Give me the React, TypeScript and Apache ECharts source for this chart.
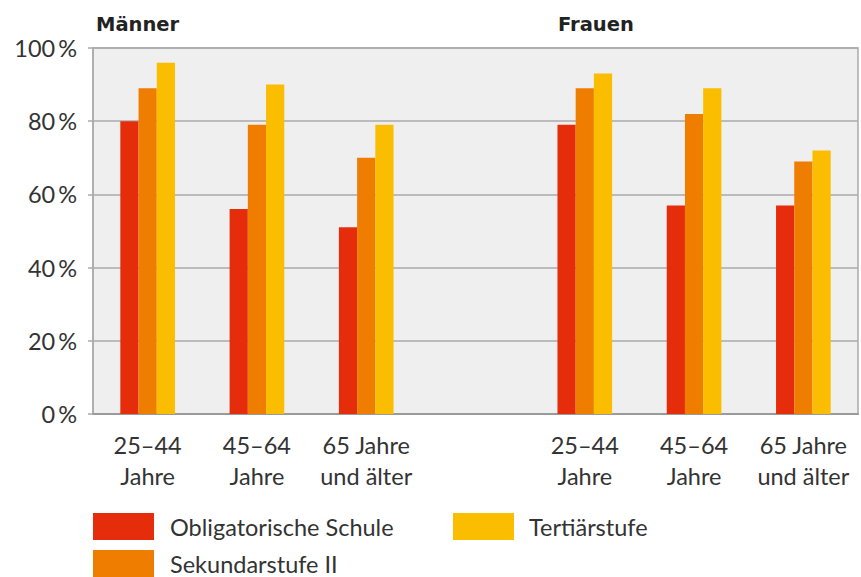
import React, { useEffect, useRef } from "react";
import * as echarts from "echarts";

const categories = [
  "25–44\nJahre",
  "45–64\nJahre",
  "65 Jahre\nund älter",
  "",
  "25–44\nJahre",
  "45–64\nJahre",
  "65 Jahre\nund älter",
];
const seriesNames = ["Obligatorische Schule", "Sekundarstufe II", "Tertiärstufe"];
const obligatorisch = [80, 56, 51, null, 79, 57, 57];
const sekundar = [89, 79, 70, null, 89, 82, 69];
const tertiaer = [96, 90, 79, null, 93, 89, 72];
const colors = ["#e52d0c", "#ef7d00", "#fbbd00"];
const groupTitles = ["Männer", "Frauen"];

const FONT = "Lato, 'Open Sans', sans-serif";
const FS = 23.5;

export default function App() {
  const ref = useRef<HTMLDivElement>(null);
  useEffect(() => {
    if (!ref.current) return;
    const chart = echarts.init(ref.current, undefined, { renderer: "svg" });
    const mk = (name: string, data: (number | null)[], color: string) => ({
      name,
      type: "bar",
      data,
      barGap: "0%",
      barCategoryGap: "50%",
      itemStyle: { color },
    });
    const legendItem = (name: string, left: number, top: number, pad: number) => ({
      orient: "horizontal",
      left,
      top,
      itemWidth: 61,
      itemHeight: 27,
      icon: "rect",
      padding: 0,
      data: [name],
      textStyle: {
        fontFamily: FONT,
        fontSize: FS,
        color: "#333",
        lineHeight: 20,
        padding: [0, 0, 0, pad],
      },
    });
    chart.setOption({
      animation: false,
      backgroundColor: "#ffffff",
      grid: {
        left: 93,
        right: 3,
        top: 48,
        bottom: 163,
        show: true,
        backgroundColor: "#efefef",
        borderColor: "#aaaaaa",
        borderWidth: 1.5,
      },
      legend: [
        legendItem(seriesNames[0], 93, 513, 11),
        legendItem(seriesNames[1], 93, 550, 11),
        legendItem(seriesNames[2], 453, 513, 10),
      ],
      xAxis: {
        type: "category",
        data: categories,
        axisLine: { show: true, lineStyle: { color: "#9a9a9a", width: 2 } },
        axisTick: { show: false },
        axisLabel: {
          fontFamily: FONT,
          fontSize: FS,
          color: "#333",
          lineHeight: 31,
          margin: 15,
          interval: 0,
        },
      },
      yAxis: {
        type: "value",
        min: 0,
        max: 100,
        interval: 20,
        axisLine: { show: true, lineStyle: { color: "#aaaaaa", width: 1.5 } },
        axisTick: { show: true, length: 5, lineStyle: { color: "#aaaaaa", width: 1.5 } },
        splitLine: { show: true, lineStyle: { color: "#aaaaaa", width: 1.5 } },
        axisLabel: {
          fontFamily: FONT,
          fontSize: FS,
          color: "#333",
          margin: 16,
          formatter: (v: number) => v + "\u2009%",
        },
      },
      graphic: [
        {
          type: "text",
          left: 96,
          top: 14,
          style: {
            text: groupTitles[0],
            fontFamily: "'DejaVu Sans', sans-serif",
            fontWeight: "bold",
            fontSize: 19.5,
            fill: "#222",
          },
        },
        {
          type: "text",
          left: 558,
          top: 14,
          style: {
            text: groupTitles[1],
            fontFamily: "'DejaVu Sans', sans-serif",
            fontWeight: "bold",
            fontSize: 19.5,
            fill: "#222",
          },
        },
      ],
      series: [
        mk(seriesNames[0], obligatorisch, colors[0]),
        mk(seriesNames[1], sekundar, colors[1]),
        mk(seriesNames[2], tertiaer, colors[2]),
      ],
    });
    return () => chart.dispose();
  }, []);
  return <div ref={ref} style={{ width: 861, height: 577, position: "absolute", left: 0, top: 0 }} />;
}
